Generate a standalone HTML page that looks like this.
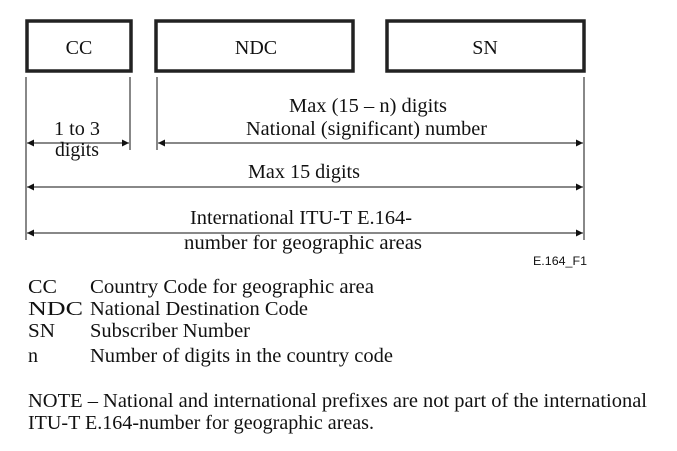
<!DOCTYPE html>
<html><head><meta charset="utf-8"><style>
html,body{margin:0;padding:0;background:#fff}
svg{display:block}
svg text{font-family:"Liberation Serif","Times New Roman",Times,"Noto Serif CJK SC",serif;font-size:20px;fill:#111}
</style></head><body>
<svg width="677" height="451" viewBox="0 0 677 451" font-family="Liberation Serif, serif">
<defs>
<marker id="ah" viewBox="0 0 10 10" refX="10" refY="5" markerWidth="9" markerHeight="7" orient="auto-start-reverse" markerUnits="userSpaceOnUse"><path d="M0,0L10,5L0,10z" fill="#111"/></marker>
</defs>
<g stroke="#222" stroke-width="3.5" fill="none">
<rect x="27" y="21" width="104" height="50"/>
<rect x="156" y="21" width="197" height="50"/>
<rect x="387" y="21" width="197" height="50"/>
</g>
<text x="79" y="54" text-anchor="middle">CC</text>
<text x="256" y="54" text-anchor="middle">NDC</text>
<text x="485" y="54" text-anchor="middle">SN</text>
<g stroke="#111" stroke-width="1">
<line x1="26" y1="77" x2="26" y2="240"/>
<line x1="130" y1="77" x2="130" y2="150"/>
<line x1="157" y1="77" x2="157" y2="150"/>
<line x1="584" y1="77" x2="584" y2="240"/>
<line x1="27" y1="143" x2="129" y2="143" marker-start="url(#ah)" marker-end="url(#ah)"/>
<line x1="158" y1="143" x2="583" y2="143" marker-start="url(#ah)" marker-end="url(#ah)"/>
<line x1="27" y1="187" x2="583" y2="187" marker-start="url(#ah)" marker-end="url(#ah)"/>
<line x1="27" y1="233" x2="583" y2="233" marker-start="url(#ah)" marker-end="url(#ah)"/>
</g>
<text x="289" y="112" textLength="158" lengthAdjust="spacingAndGlyphs">Max (15 – n) digits</text>
<text x="246" y="135" textLength="241" lengthAdjust="spacingAndGlyphs">National (significant) number</text>
<text x="54" y="135" textLength="46" lengthAdjust="spacingAndGlyphs">1 to 3</text>
<text x="55" y="156" textLength="44" lengthAdjust="spacingAndGlyphs">digits</text>
<text x="248" y="178" textLength="112" lengthAdjust="spacingAndGlyphs">Max 15 digits</text>
<text x="190" y="224" textLength="222" lengthAdjust="spacingAndGlyphs">International ITU-T E.164-</text>
<text x="184" y="249" textLength="238" lengthAdjust="spacingAndGlyphs">number for geographic areas</text>
<text x="533" y="265" textLength="54" lengthAdjust="spacingAndGlyphs" style="font-family:'Liberation Sans',sans-serif;font-size:12px">E.164_F1</text>
<g>
<text x="28" y="293" textLength="29" lengthAdjust="spacingAndGlyphs">CC</text>
<text x="90" y="293" textLength="284" lengthAdjust="spacingAndGlyphs">Country Code for geographic area</text>
<text x="28" y="315" textLength="55" lengthAdjust="spacingAndGlyphs">NDC</text>
<text x="90" y="315" textLength="218" lengthAdjust="spacingAndGlyphs">National Destination Code</text>
<text x="28" y="337" textLength="27" lengthAdjust="spacingAndGlyphs">SN</text>
<text x="90" y="337" textLength="160" lengthAdjust="spacingAndGlyphs">Subscriber Number</text>
<text x="28" y="362">n</text>
<text x="90" y="362" textLength="303" lengthAdjust="spacingAndGlyphs">Number of digits in the country code</text>
</g>
<text x="28" y="407" textLength="619" lengthAdjust="spacingAndGlyphs">NOTE – National and international prefixes are not part of the international</text>
<text x="28" y="429" textLength="346" lengthAdjust="spacingAndGlyphs">ITU-T  E.164-number for geographic areas.</text>
</svg>
</body></html>
